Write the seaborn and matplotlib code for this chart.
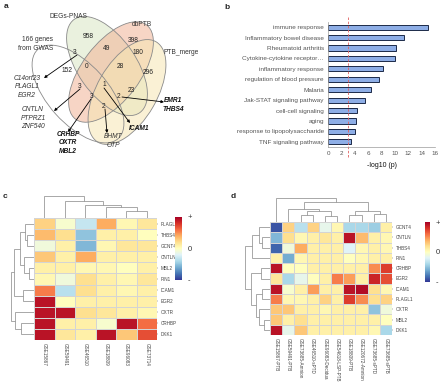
import numpy as np
import pandas as pd
import matplotlib
matplotlib.use("Agg")
import matplotlib.pyplot as plt
import seaborn as sns
from matplotlib.patches import Ellipse

# ---------------- data ----------------
venn_sets = ["166 genes\nfrom GWAS", "DEGs-PNAS", "dbPTB", "PTB_merge"]
venn_counts = [958, 398, 49, 180, 3, 0, 28, 296, 152, 1, 23, 3, 3, 2, 2]
venn_genes = [["C14orf23", "PLAGL1", "EGR2"], ["CNTLN", "PTPRZ1", "ZNF540"],
              ["CRHBP", "OXTR", "MBL2"], ["BHMT", "OTP"], ["ICAM1"], ["EMR1", "THBS4"]]
venn_bold = [False, False, True, False, True, True]

terms = ["immune response", "Inflammatory bowel disease", "Rheumatoid arthritis",
         "Cytokine-cytokine receptor\u2026", "inflammatory response",
         "regulation of blood pressure", "Malaria", "Jak-STAT signaling pathway",
         "cell-cell signaling", "aging", "response to lipopolysaccharide",
         "TNF signaling pathway"]
neglog_p = [15.0, 11.4, 10.1, 10.0, 8.2, 7.7, 6.4, 5.6, 4.3, 4.2, 4.1, 3.4]
cutoff = 3.0

c_rows = ["PLAGL1", "THBS4", "GCNT4", "CNTLN", "MBL2", "PIN1", "ICAM1", "EGR2", "OXTR", "CRHBP", "DKK1"]
c_cols = ["GSE15867", "GSE59491", "GSE46510", "GSE18809", "GSE96083", "GSE73714"]
c_vals = [
    [0.25, -0.05, -0.30, 0.40, 0.05, 0.15],
    [0.35, 0.20, -0.50, 0.10, 0.10, 0.00],
    [-0.10, 0.10, -0.55, 0.05, 0.15, 0.15],
    [0.30, 0.10, 0.40, 0.10, 0.10, 0.10],
    [0.10, 0.10, 0.05, 0.05, 0.00, 0.10],
    [0.05, -0.10, 0.20, 0.10, 0.05, 0.15],
    [0.55, -0.35, 0.20, 0.10, 0.05, 0.10],
    [0.92, 0.00, 0.10, 0.10, 0.10, 0.10],
    [0.92, 0.92, 0.20, 0.15, 0.10, 0.05],
    [0.92, 0.10, 0.10, -0.05, 0.92, 0.60],
    [0.92, 0.15, 0.10, 0.92, 0.30, 0.70],
]
c_col_tree = (1.0, 0, (0.75, 1, (0.58, 2, (0.5, 3, (0.33, 4, 5)))))
c_row_tree = (1.0, (0.85, (0.6, (0.38, 0, (0.28, 1, 2)), (0.42, 3, (0.22, 4, 5))), (0.46, 6, 7)),
              (0.8, 8, (0.55, 9, 10)))

d_rows = ["GCNT4", "CNTLN", "THBS4", "PIN1", "CRHBP", "EGR2", "ICAM1", "PLAGL1", "OXTR", "MBL2", "DKK1"]
d_cols = ["GSE15867-PTB", "GSE59491-PTB", "GSE73685-Amnion", "GSE46510-sPTD", "GSE96083-Decidua",
          "GSE54618-LSP-PTB", "GSE18809-PTB", "GSE120672-Amnion", "GSE73685-sPTD", "GSE73685-sPTB"]
d_vals = [
    [-0.90, 0.25, -0.35, 0.25, -0.15, 0.05, -0.40, -0.40, -0.45, 0.10],
    [-0.55, 0.20, 0.05, 0.10, 0.15, 0.10, 0.92, 0.35, 0.10, 0.05],
    [-0.85, -0.10, 0.40, 0.10, 0.10, 0.10, -0.20, 0.05, 0.10, 0.05],
    [0.10, -0.60, 0.05, 0.10, 0.10, 0.10, 0.00, 0.05, 0.10, 0.10],
    [0.92, 0.00, 0.00, 0.10, 0.10, 0.10, 0.10, 0.10, 0.50, 0.75],
    [0.15, -0.40, -0.15, 0.00, 0.10, 0.55, 0.45, 0.10, 0.85, 0.70],
    [0.92, -0.05, 0.10, 0.45, 0.10, 0.10, 0.92, 0.95, 0.20, 0.05],
    [0.55, 0.05, 0.05, 0.10, 0.25, 0.10, 0.75, 0.50, 0.20, 0.25],
    [0.30, 0.30, 0.10, 0.10, 0.05, 0.10, 0.10, 0.10, -0.50, -0.10],
    [0.30, 0.10, 0.20, 0.10, 0.10, 0.10, 0.10, 0.10, 0.10, 0.00],
    [0.92, -0.15, 0.30, 0.10, 0.10, 0.10, 0.10, 0.10, 0.05, -0.40],
]
d_col_tree = (1.0, 0, (0.83, (0.55, 1, (0.45, (0.3, 2, 3), (0.25, 4, 5))), (0.45, (0.3, 6, 7), (0.35, 8, 9))))
d_row_tree = (1.0, (0.7, (0.45, 0, (0.3, 1, 2)), 3),
              (0.75, (0.35, 4, 5), (0.55, (0.3, 6, 7), (0.42, 8, (0.25, 9, 10)))))

# ---------------- figure ----------------
sns.set_theme(style="white")
plt.rcParams["font.family"] = ["Liberation Sans", "DejaVu Sans"]
W, H = 440, 385
fig = plt.figure(figsize=(4.4, 3.85), dpi=100)


def rect(x0, y0, x1, y1):
    return [x0 / W, 1 - y1 / H, (x1 - x0) / W, (y1 - y0) / H]


fig.text(4 / W, 1 - 8 / H, "a", fontsize=6, fontweight="bold")
fig.text(224 / W, 1 - 9 / H, "b", fontsize=6, fontweight="bold")
fig.text(3 / W, 1 - 198 / H, "c", fontsize=6, fontweight="bold")
fig.text(231 / W, 1 - 198 / H, "d", fontsize=6, fontweight="bold")

# ---------------- panel a : Venn ----------------
axa = fig.add_axes(rect(0, 0, 220, 190))
axa.set_xlim(0, 220)
axa.set_ylim(190, 0)
axa.axis("off")
ell_geo = [((78, 94), 120, 60, 48), ((107, 66), 114, 58, 55), ((111, 72), 118, 58, -53),
           ((127, 92), 116, 60, -60)]
ell_col = ["#ffffff", "#dce8c8", "#f2b496", "#f6e6b4"]
ell_alpha = [1.0, 0.6, 0.55, 0.55]
for (c, w, h, a), col, al in zip(ell_geo, ell_col, ell_alpha):
    axa.add_patch(Ellipse(c, w, h, angle=a, facecolor=col, alpha=al, edgecolor="none"))
for (c, w, h, a) in ell_geo:
    axa.add_patch(Ellipse(c, w, h, angle=a, facecolor="none", edgecolor="#8a8a8a", lw=0.6))
set_pos = [(53, 44, "right"), (68, 17, "center"), (142, 24, "center"), (163, 52, "left")]
for name, (x, y, ha) in zip(venn_sets, set_pos):
    axa.text(x, y, name, fontsize=4.8, ha=ha, va="center", color="#333333", linespacing=1.3)
count_pos = [(88, 37), (133, 40), (107, 48), (138, 53), (75, 52), (87, 66), (120, 66), (148, 72),
             (67, 71), (104, 85), (131, 91), (80, 87), (92, 97), (104, 106), (119, 97)]
for n, (x, y) in zip(venn_counts, count_pos):
    axa.text(x, y, str(n), fontsize=4.8, ha="center", va="center", color="#222222")
gene_pos = [(27, 87), (33, 118), (68, 143), (113, 141), (139, 128), (173, 105)]
arrows = [((77, 55), (44, 78)), ((80, 89), (54, 111)), ((91, 99), (68, 132)),
          ((104, 88), (130, 123)), ((105, 109), (107, 133)), ((122, 97), (164, 102))]
for genes, bold, (x, y) in zip(venn_genes, venn_bold, gene_pos):
    axa.text(x, y, "\n".join(genes), fontsize=4.8, ha="center", va="center", style="italic",
             fontweight="bold" if bold else "normal", color="#111111" if bold else "#333333",
             linespacing=1.25)
for (s, e) in arrows:
    axa.annotate("", xy=e, xytext=s, arrowprops=dict(arrowstyle="-|>", color="black", lw=0.6,
                                                     mutation_scale=4, shrinkA=0, shrinkB=0))

# ---------------- panel b : bars ----------------
axb = fig.add_axes(rect(328, 22, 435, 147))
dfb = pd.DataFrame({"term": terms, "val": neglog_p})
sns.barplot(data=dfb, x="val", y="term", ax=axb, color="#8eaee6", edgecolor="#1c2a48",
            linewidth=0.7, width=0.5, orient="h", saturation=1)
axb.set_xlim(0, 16)
axb.set_xticks(range(0, 17, 2))
axb.tick_params(axis="x", labelsize=4.5, length=1.5, width=0.4, pad=1.5, colors="#555555")
axb.tick_params(axis="y", labelsize=4.6, length=0, pad=3, colors="#555555")
axb.set_ylabel("")
axb.set_xlabel("-log10 (p)", fontsize=5, labelpad=4, color="#111111")
for s in ["top", "right"]:
    axb.spines[s].set_visible(False)
for s in ["left", "bottom"]:
    axb.spines[s].set_color("#9a9a9a")
    axb.spines[s].set_linewidth(0.5)
axb.axvline(cutoff, ymin=-0.08, ymax=1.05, color="#e06060", ls=(0, (3, 2)), lw=0.6, clip_on=False)


# ---------------- dendrogram helper ----------------
def dendro(ax, node, orient):
    if isinstance(node, int):
        return node + 0.5, 0.0
    h, l, r = node
    pl, hl = dendro(ax, l, orient)
    pr, hr = dendro(ax, r, orient)
    xs = [pl, pl, pr, pr]
    ys = [hl, h, h, hr]
    if orient == "top":
        ax.plot(xs, ys, color="#9a9a9a", lw=0.6, solid_joinstyle="miter")
    else:
        ax.plot(ys, xs, color="#9a9a9a", lw=0.6, solid_joinstyle="miter")
    return (pl + pr) / 2, h


def cluster_panel(vals, rows, cols, col_tree, row_tree, hm, top, left, cb):
    df = pd.DataFrame(vals, index=rows, columns=cols)
    ax = fig.add_axes(rect(*hm))
    cax = fig.add_axes(rect(*cb))
    sns.heatmap(df, ax=ax, cbar_ax=cax, cmap="RdYlBu_r", vmin=-1, vmax=1,
                linewidths=0.5, linecolor="#d4d4d4", xticklabels=True, yticklabels=True)
    ax.yaxis.tick_right()
    ax.tick_params(axis="y", labelsize=3.3, rotation=0, length=1, width=0.3, pad=1.5, colors="#444444")
    ax.tick_params(axis="x", labelsize=3.3, rotation=-90, length=1, width=0.3, pad=1.5, colors="#444444")
    for lab in ax.get_yticklabels():
        lab.set_ha("left")
    cax.set_yticks([1, 0, -1])
    cax.set_yticklabels(["+", "0", "-"])
    cax.tick_params(labelsize=5.5, length=0, pad=4, colors="#333333")
    axt = fig.add_axes(rect(*top))
    dendro(axt, col_tree, "top")
    axt.set_xlim(0, len(cols))
    axt.set_ylim(0, 1.03)
    axt.axis("off")
    axl = fig.add_axes(rect(*left))
    dendro(axl, row_tree, "left")
    axl.set_ylim(len(rows), 0)
    axl.set_xlim(1.03, 0)
    axl.axis("off")


cluster_panel(c_vals, c_rows, c_cols, c_col_tree, c_row_tree,
              (34, 218, 157, 340), (34, 195, 157, 218), (10, 218, 34, 340), (175, 217, 182, 280))
cluster_panel(d_vals, d_rows, d_cols, d_col_tree, d_row_tree,
              (270, 222, 392, 335), (270, 197, 392, 222), (244, 222, 270, 335), (425, 222, 430, 282))

fig.savefig("out.png", dpi=100)
